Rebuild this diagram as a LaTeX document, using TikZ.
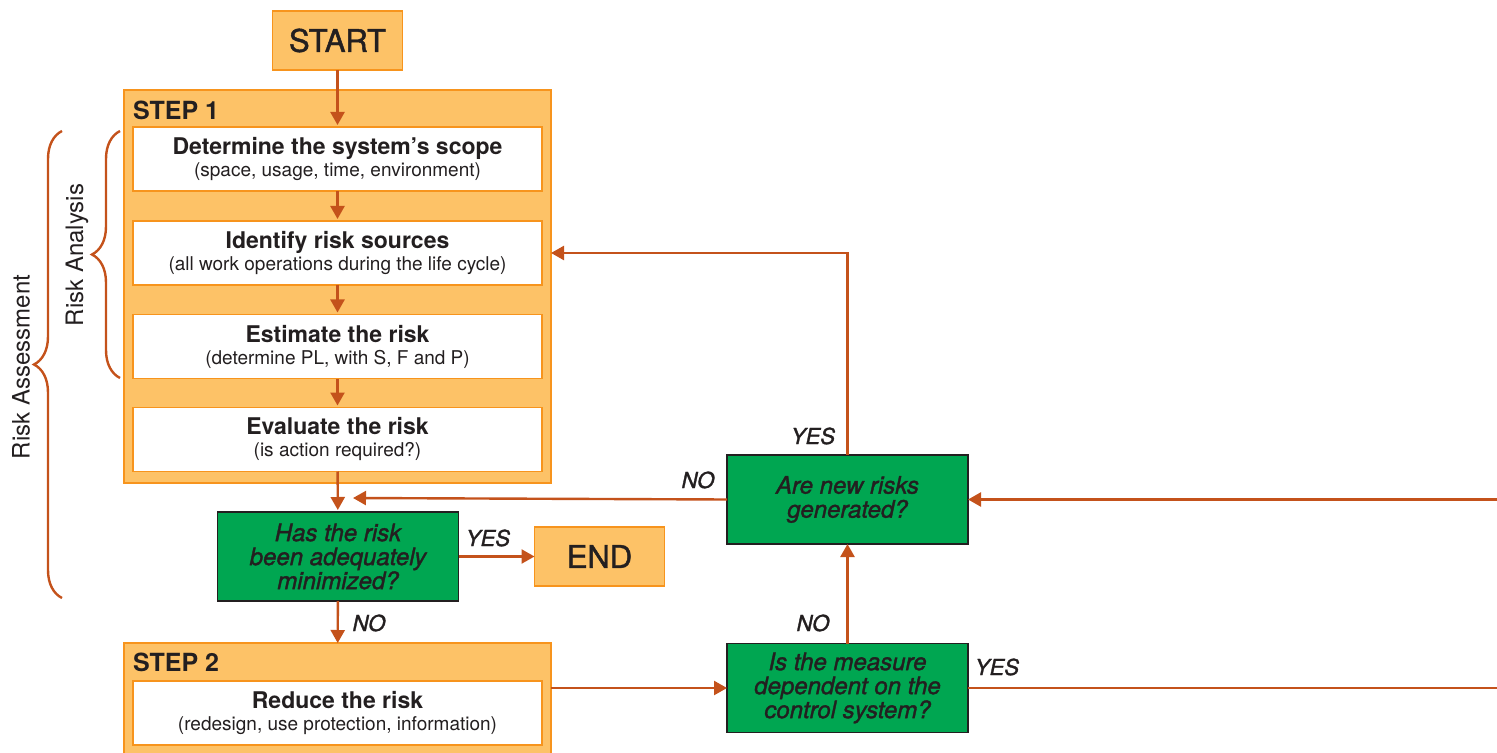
\documentclass[tikz,border=0pt]{standalone}
\usepackage{fontspec}
\setmainfont{TeX Gyre Heros}
\newfontfamily\mediumfont[FakeBold=1.5]{TeX Gyre Heros}
\usetikzlibrary{arrows.meta,decorations.pathreplacing}

\definecolor{boxfill}{HTML}{FDC267}
\definecolor{boxline}{HTML}{F7941D}
\definecolor{decfill}{HTML}{00A651}
\definecolor{decline}{HTML}{231F20}
\definecolor{flowline}{HTML}{C4521B}
\definecolor{txt}{HTML}{231F20}

\begin{document}
\begin{tikzpicture}[
		x=0.5pt, y=-0.5pt,
		every node/.style={text=txt, inner sep=0pt, outer sep=0pt},
		terminal/.style={rectangle, draw=boxline, line width=0.75pt, fill=boxfill, minimum width=65pt, minimum height=29.5pt, font=\mediumfont\fontsize{15.5}{15.5}\selectfont},
		stepframe/.style={rectangle, draw=boxline, line width=0.75pt, fill=boxfill, minimum width=213.5pt},
		task/.style={rectangle, draw=boxline, line width=0.75pt, fill=white, minimum width=204.5pt, minimum height=32pt, align=center, font=\fontsize{9.5}{11}\selectfont},
		decision/.style={rectangle, draw=decline, line width=0.6pt, fill=decfill, minimum width=120.5pt, minimum height=44.5pt, align=center, font=\mediumfont\fontsize{12}{12}\selectfont\itshape},
		steplabel/.style={anchor=west, font=\fontsize{12.5}{12.5}\selectfont\bfseries},
		answer/.style={font=\mediumfont\fontsize{11}{11}\selectfont\itshape},
		flow/.style={draw=flowline, line width=1.2pt, -{Triangle[length=6.5pt, width=7pt]}},
		group/.style={draw=flowline, line width=1.2pt, decorate, decoration={brace, amplitude=14pt}},
		grouplabel/.style={rotate=90, font=\fontsize{12}{12}\selectfont}
	]
  \useasboundingbox (0,0) rectangle (1497,753);

  % step frames
  \node (step1) [stepframe, minimum height=196.5pt] at (337.5, 286.5) {};
  \node (step1_label) [steplabel] at (133, 110) {STEP 1};
  \node (step2) [stepframe, minimum height=58.5pt] at (337.5, 701.5) {};
  \node (step2_label) [steplabel] at (133, 662) {STEP 2};

  \node (start) [terminal] at (337.5, 40.5) {START};
  \node (scope) [task] at (337.5, 159) {{\fontsize{11.5}{12.5}\selectfont\bfseries Determine the system’s scope}\\(space, usage, time, environment)};
  \node (sources) [task] at (337.5, 253) {{\fontsize{11.5}{12.5}\selectfont\bfseries Identify risk sources}\\(all work operations during the life cycle)};
  \node (estimate) [task] at (337.5, 346.5) {{\fontsize{11.5}{12.5}\selectfont\bfseries Estimate the risk}\\(determine PL, with S, F and P)};
  \node (evaluate) [task] at (337.5, 439.5) {{\fontsize{11.5}{12.5}\selectfont\bfseries Evaluate the risk}\\(is action required?)};
  \node (minimized) [decision] at (338, 556.5) {Has the risk\\been adequately\\minimized?};
  \node (end) [terminal] at (599.5, 556.5) {END};
  \node (reduce) [task] at (337.5, 713) {{\fontsize{11.5}{12.5}\selectfont\bfseries Reduce the risk}\\(redesign, use protection, information)};
  \node (measure) [decision] at (847.5, 688) {Is the measure\\dependent on the\\control system?};
  \node (newrisks) [decision] at (847.5, 499.5) {Are new risks\\generated?};

  \coordinate (merge) at (353, 498);
  \coordinate (loop) at (1510, 688);

  \draw[flow, shorten >=1pt] (start) -- (scope);
  \draw[flow, shorten >=1pt] (scope) -- (sources);
  \draw[flow, shorten >=1pt] (sources) -- (estimate);
  \draw[flow, shorten >=1pt] (estimate) -- (evaluate);
  \draw[flow, shorten >=1pt] (evaluate) -- (minimized);
  \draw[flow] (minimized) -- (end);
  \draw[flow] (minimized) -- (step2);
  \draw[flow] (measure.west -| step2.east) -- (measure.west);
  \draw[flow] (measure) -- (newrisks);
  \draw[flow] (measure.east) -- (loop) |- (newrisks.east);
  \draw[flow] (newrisks.west) -- (merge);
  \draw[flow] (newrisks.north) |- (sources.east -| step1.east);

  \node (yes_end) [answer] at (488, 538) {YES};
  \node (no_step2) [answer] at (369, 623) {NO};
  \node (no_merge) [answer] at (698, 480) {NO};
  \node (yes_sources) [answer] at (813, 436) {YES};
  \node (no_newrisks) [answer] at (813, 623) {NO};
  \node (yes_loop) [answer] at (997, 667) {YES};

  % braces
  \draw[group] (120, 378) -- (120, 131);
  \draw[group] (62, 598) -- (62, 131);
  \node (analysis) [grouplabel] at (77, 255) {Risk Analysis};
  \node (assessment) [grouplabel] at (21, 367) {Risk Assessment};
\end{tikzpicture}
\end{document}
